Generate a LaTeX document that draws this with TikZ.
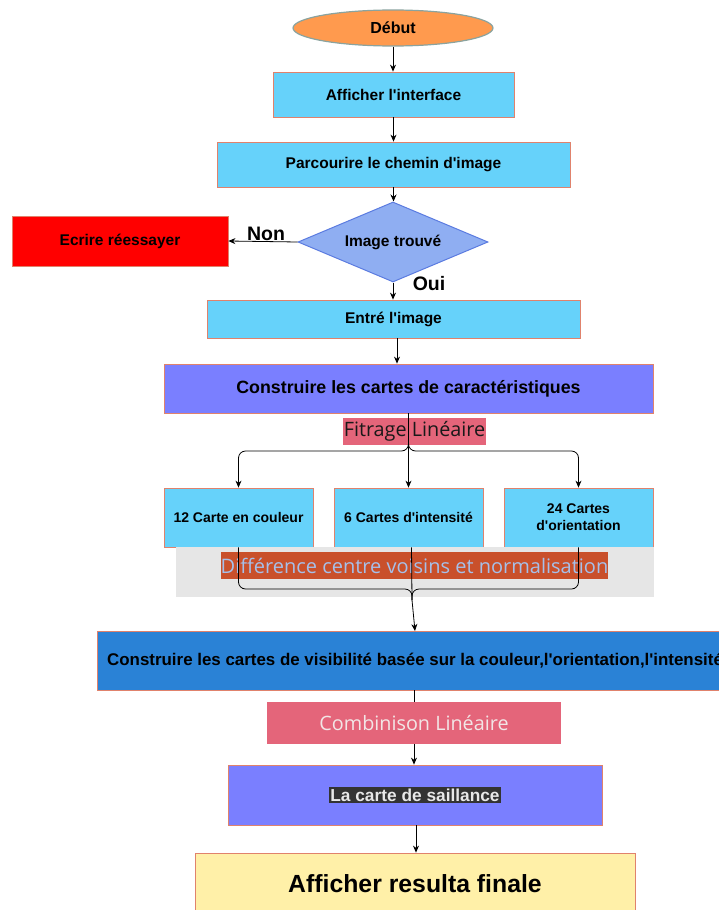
\documentclass[tikz,border=0pt]{standalone}
\usepackage{fontspec}
\setmainfont{Liberation Sans}
\newfontfamily\labelfont{Open Sans}
\usetikzlibrary{shapes.geometric,arrows.meta}

\newcommand\apos{\textquotesingle}

\definecolor{startfill}{HTML}{FF9A4E}
\definecolor{startline}{HTML}{8AA39F}
\definecolor{boxline}{HTML}{E0826C}
\definecolor{skyfill}{HTML}{66D2FA}
\definecolor{testfill}{HTML}{8FAEF2}
\definecolor{testline}{HTML}{5B7BE0}
\definecolor{violetfill}{HTML}{7A7FFF}
\definecolor{pinkfill}{HTML}{E4657A}
\definecolor{rustfill}{HTML}{C9502B}
\definecolor{rusttext}{HTML}{A6C0EA}
\definecolor{greyband}{HTML}{E6E6E6}
\definecolor{bluefill}{HTML}{2A82D6}
\definecolor{combtext}{HTML}{F2E6E6}
\definecolor{finalfill}{HTML}{FFF0A8}
\definecolor{hlback}{HTML}{333333}
\definecolor{hltext}{HTML}{E8E8E8}

\begin{document}
\begin{tikzpicture}[x=1pt,y=-1pt,
  box/.style={rectangle, draw=boxline, line width=0.8pt, inner sep=0pt, align=center,
    font=\bfseries\fontsize{15.5}{17}\selectfont},
  smallbox/.style={box, fill=skyfill, minimum width=149pt, minimum height=59pt,
    font=\bfseries\fontsize{14}{17}\selectfont},
  tag/.style={rectangle, inner sep=0pt, font=\labelfont\fontsize{19.8}{22}\selectfont},
  answer/.style={inner sep=0.5pt, font=\bfseries\fontsize{19.5}{22}\selectfont},
  arr/.style={-{Stealth[length=7pt,width=6pt]}, line width=0.8pt},
  wire/.style={line width=0.8pt}]
\useasboundingbox (0,0) rectangle (719,910);
\clip (0,0) rectangle (719,910);

% main column
\node[ellipse, draw=startline, fill=startfill, line width=1.2pt, minimum width=200pt,
  minimum height=36pt, inner sep=0pt, font=\bfseries\fontsize{16}{19}\selectfont]
  (debut) at (393,28) {Début};
\node[box, fill=skyfill, minimum width=241pt, minimum height=45pt] (afficher) at (393.5,94.5) {Afficher l\apos interface};
\node[box, fill=skyfill, minimum width=353pt, minimum height=45pt] (parcourir) at (393.5,164.5) {Parcourire le chemin d\apos image};
\node[diamond, aspect=2.4, draw=testline, fill=testfill, line width=1pt, minimum width=190pt,
  minimum height=80pt, inner sep=0pt, font=\bfseries\fontsize{15.5}{17}\selectfont]
  (test) at (393,242) {Image trouvé};
\node[box, fill=red, minimum width=216pt, minimum height=50pt] (ecrire) at (120,241) {Ecrire réessayer};
\node[box, fill=skyfill, minimum width=373pt, minimum height=38pt] (entre) at (393.5,319) {Entré l\apos image};
\node[box, fill=violetfill, minimum width=489pt, minimum height=49pt,
  font=\bfseries\fontsize{17.8}{20}\selectfont] (construire) at (408.5,388.5) {Construire les cartes de caractéristiques};

% filtering label and the three feature maps
\node[tag, fill=pinkfill, text=black!90, minimum width=143pt, minimum height=27pt] (filtre) at (414.5,431.5) {Fitrage Linéaire};
\node[smallbox] (c1) at (238.5,517.5) {12 Carte en couleur};
\node[smallbox] (c2) at (408.5,517.5) {6 Cartes d\apos intensité};
\node[smallbox] (c3) at (578.5,517.5) {24 Cartes\\d\apos orientation};

% centre-surround band
\node[rectangle, fill=greyband, minimum width=478pt, minimum height=50pt, inner sep=0pt] (band) at (415,572) {};
\node[tag, fill=rustfill, text=rusttext, minimum width=385pt, minimum height=27pt,
  font=\labelfont\fontsize{20}{22}\selectfont] (diff) at (414.5,565.5) {Différence centre voisins et normalisation};

% conspicuity maps and final steps
\node[box, fill=bluefill, minimum width=630pt, minimum height=59pt] (vis) at (412,660.5) {};
\node[anchor=west, inner sep=0pt, font=\bfseries\fontsize{16.9}{19}\selectfont] (vistext) at (107,660.5)
  {Construire les cartes de visibilité basée sur la couleur,l\apos orientation,l\apos intensité};
\node[tag, fill=pinkfill, text=combtext, minimum width=294pt, minimum height=42pt] (comb) at (414,723) {Combinison Linéaire};
\node[box, fill=violetfill, minimum width=374pt, minimum height=60pt,
  font=\bfseries\fontsize{17.3}{20}\selectfont] (sail) at (415,795)
  {\setlength\fboxsep{1.5pt}\colorbox{hlback}{\textcolor{hltext}{La carte de saillance}}};
\node[box, fill=finalfill, minimum width=440pt, minimum height=62pt,
  font=\bfseries\fontsize{24.8}{28}\selectfont] (final) at (415,884) {Afficher resulta finale};

% answers of the test
\node[answer] (non) at (266,234) {Non};
\node[answer] (oui) at (429,284) {Oui};

% connectors
\draw[arr] (debut.south) -- (debut.south |- afficher.north);
\draw[arr] (afficher.south) -- (parcourir.north);
\draw[arr] (parcourir.south) -- (parcourir.south |- test.north);
\draw[arr] (test.west) -- (ecrire.east);
\draw[arr] (test.south) -- (test.south |- entre.north);
\draw[arr] ([xshift=3.5pt]entre.south) -- ([xshift=3.5pt]entre.south |- construire.north);

\coordinate (split) at (408.5,451);
\draw[arr] (construire.south) -- (c2.north);
\draw[arr, rounded corners=7pt] (construire.south) |- (c1.north |- split) -- (c1.north);
\draw[arr, rounded corners=7pt] (construire.south) |- (c3.north |- split) -- (c3.north);

\coordinate (brace) at (412,589);
\coordinate (merge) at (412,600);
\coordinate (visin) at (415,631);
\draw[wire, rounded corners=7pt] (c1.south) |- (brace) -- (merge);
\draw[wire, rounded corners=7pt] (c3.south) |- (brace) -- (merge);
\draw[wire] ([xshift=3pt]c2.south) -- (merge);
\draw[arr] (merge) -- (visin);

\draw[wire] (comb.north |- vis.south) -- (comb.north);
\draw[arr] (comb.south) -- (comb.south |- sail.north);
\draw[arr] ([xshift=1pt]sail.south) -- ([xshift=1pt]sail.south |- final.north);
\end{tikzpicture}
\end{document}
